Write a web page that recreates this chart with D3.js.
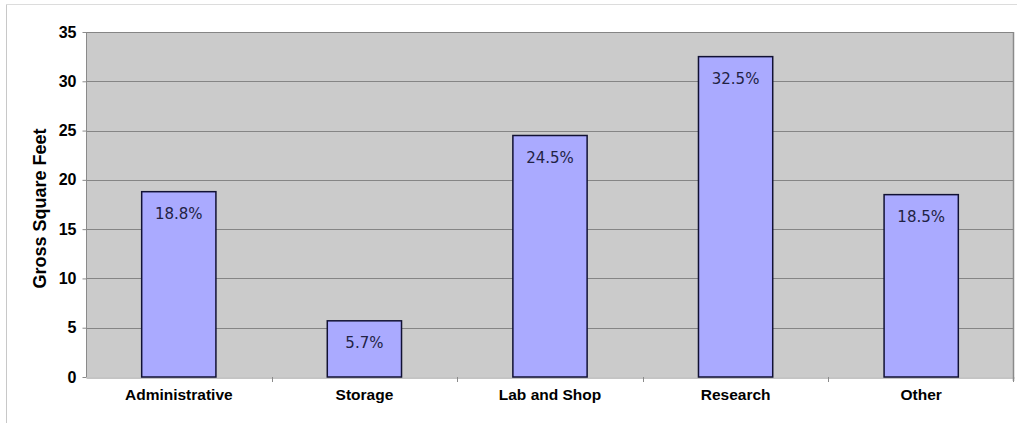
<!DOCTYPE html>
<html><head><meta charset="utf-8">
<script src="https://cdn.jsdelivr.net/npm/d3@7"></script>
<style>body{margin:0;background:#fff;}svg{display:block;font-family:"Liberation Sans",Arial,sans-serif;}</style>
</head><body>
<svg id="chart" width="1017" height="423"></svg>
<script>
const categories = ["Administrative", "Storage", "Lab and Shop", "Research", "Other"];
const values = [18.8, 5.7, 24.5, 32.5, 18.5];
const labels = ["18.8%", "5.7%", "24.5%", "32.5%", "18.5%"];
const yTicks = [0, 5, 10, 15, 20, 25, 30, 35];

const svg = d3.select("#chart");
const m = {left: 86, right: 1014, top: 32, bottom: 377};

// outer frame
svg.append("line").attr("x1", 6.5).attr("x2", 1017).attr("y1", 4.5).attr("y2", 4.5).attr("stroke", "#dcdcdc");
svg.append("line").attr("x1", 6.5).attr("x2", 6.5).attr("y1", 4.5).attr("y2", 423).attr("stroke", "#c8c8c8");

const x = d3.scaleBand().domain(categories).range([m.left, m.right]).paddingInner(0).paddingOuter(0);
const y = d3.scaleLinear().domain([0, 35]).range([m.bottom, m.top]);

svg.append("rect").attr("x", m.left).attr("y", m.top).attr("width", m.right - m.left).attr("height", m.bottom - m.top).attr("fill", "#cbcbcb");

// gridlines
svg.append("g").selectAll("line").data(yTicks.filter(d => d > 0)).join("line")
  .attr("x1", m.left).attr("x2", m.right)
  .attr("y1", d => Math.round(y(d)) + 0.5).attr("y2", d => Math.round(y(d)) + 0.5)
  .attr("stroke", "#858585").attr("stroke-width", 1);

// plot borders
svg.append("line").attr("x1", m.left + 0.5).attr("x2", m.left + 0.5).attr("y1", m.top).attr("y2", m.bottom).attr("stroke", "#8a8a8a");
svg.append("line").attr("x1", m.right - 0.5).attr("x2", m.right - 0.5).attr("y1", m.top).attr("y2", m.bottom + 4).attr("stroke", "#8a8a8a").attr("stroke-width", 1.5);

// y axis
const yAxis = d3.axisLeft(y).tickValues(yTicks).tickSize(4).tickPadding(6);
const gy = svg.append("g").attr("transform", `translate(${m.left + 0.5},0)`).call(yAxis);
gy.select(".domain").remove();
gy.selectAll(".tick line").attr("stroke", "#8a8a8a");
gy.selectAll("text").attr("font-size", 16).attr("font-weight", "bold").attr("fill", "#000");

// x axis
const xAxis = d3.axisBottom(x).tickSize(0).tickPadding(11.5);
const gx = svg.append("g").attr("transform", `translate(0,${m.bottom + 0.5})`).call(xAxis);
gx.select(".domain").attr("stroke", "#8a8a8a");
gx.selectAll("text").attr("font-size", 15.5).attr("font-weight", "bold").attr("fill", "#000");
// category boundary ticks
svg.append("g").selectAll("line").data(categories.slice(1).concat(["__end"])).join("line")
  .attr("x1", d => d === "__end" ? m.right - 0.5 : Math.round(x(d)) + 0.5)
  .attr("x2", d => d === "__end" ? m.right - 0.5 : Math.round(x(d)) + 0.5)
  .attr("y1", m.bottom).attr("y2", m.bottom + 5).attr("stroke", "#8a8a8a");

// bars
const bw = x.bandwidth() * 0.4;
const data = categories.map((c, i) => ({c, v: values[i], l: labels[i]}));
svg.append("g").selectAll("rect").data(data).join("rect")
  .attr("x", d => x(d.c) + x.bandwidth() / 2 - bw / 2)
  .attr("y", d => y(d.v))
  .attr("width", bw)
  .attr("height", d => y(0) - y(d.v))
  .attr("fill", "#aaaaff").attr("stroke", "#111133").attr("stroke-width", 1.5);

svg.append("g").selectAll("text").data(data).join("text")
  .attr("x", d => x(d.c) + x.bandwidth() / 2)
  .attr("y", d => y(d.v) + 27)
  .attr("text-anchor", "middle")
  .attr("font-family", "'DejaVu Sans', Verdana, sans-serif")
  .attr("font-size", 15).attr("fill", "#222244")
  .text(d => d.l);

// y title
svg.append("text").attr("transform", `translate(46,${(m.top + m.bottom) / 2 + 4}) rotate(-90)`)
  .attr("text-anchor", "middle").attr("font-size", 18).attr("font-weight", "bold").attr("fill", "#000")
  .text("Gross Square Feet");
</script>
</body></html>
